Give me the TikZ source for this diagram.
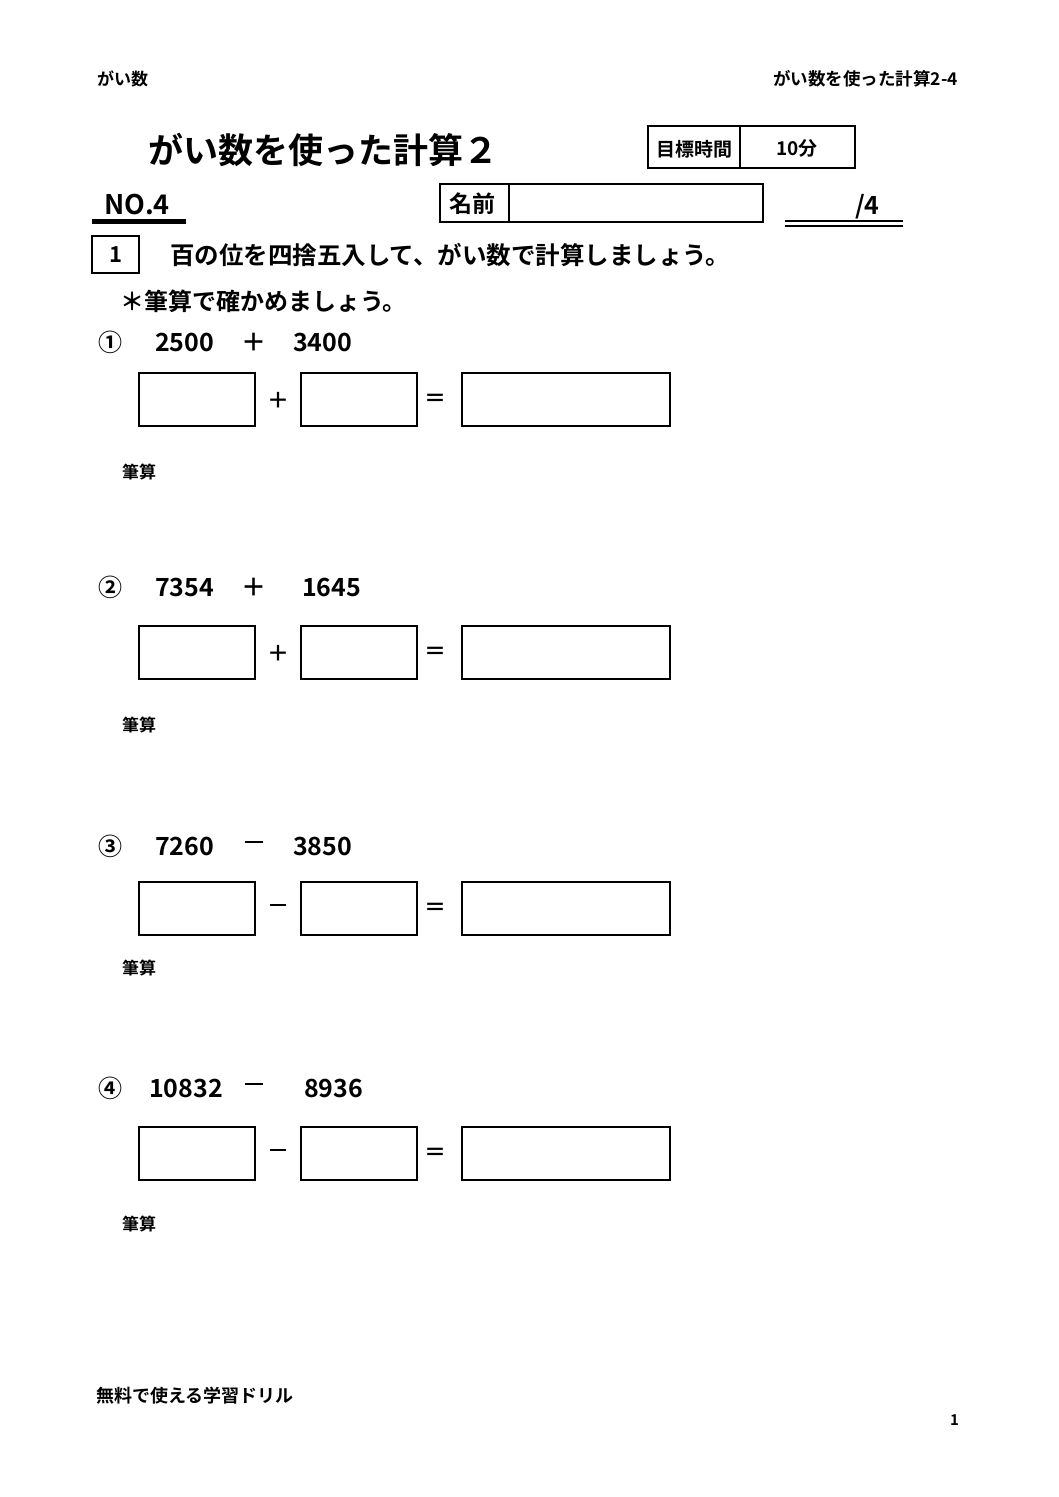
\documentclass[tikz,border=0pt]{standalone}
\usepackage{fontspec}
\setmainfont{Noto Sans CJK JP}[BoldFont={Noto Sans CJK JP Bold}]
\begin{document}
\begin{tikzpicture}[x=1pt,y=-1pt,
  bx/.style={draw,line width=1.6pt},
  t/.style={inner sep=0pt,anchor=west,font=\fontsize{#1}{#1}\selectfont\bfseries},
  t/.default=22]
\useasboundingbox[fill=white] (0,0) rectangle (1058,1497);
\node[t=17] (h1) at (97,79) {がい数};
\node[t=17.5,anchor=east] (h2) at (958,79) {がい数を使った計算2-4};
\node[t=35] (title) at (148,150) {がい数を使った計算２};
\draw[bx] (648,126) rectangle (855,168);
\draw[line width=1.6pt] (740,126) -- (740,168);
\node[t=19,anchor=center] (mk) at (694,149) {目標時間};
\node[t=19,anchor=center] (mk2) at (797,148) {10分};
\node[t=27] (no) at (104,205) {NO.4};
\draw[line width=5pt] (92,221) -- (186,221);
\draw[bx] (440,184) rectangle (763,222);
\draw[line width=1.6pt] (509,184) -- (509,222);
\node[t=23,anchor=center] (nm) at (472,204) {名前};
\node[t=25] (sc) at (855,207) {/4};
\draw[line width=1.5pt] (785,221) -- (903,221);
\draw[line width=1.5pt] (785,226) -- (903,226);
\draw[bx] (92,236) rectangle (139,273);
\node[t=22,anchor=center] (one) at (116,255) {1};
\node[t=24.5] (q) at (170,255) {百の位を四捨五入して、がい数で計算しましょう。};
\node[t=24] (q2) at (120,301) {＊筆算で確かめましょう。};
\foreach \y/\bt/\hs/\mk/\a/\op/\b/\ax/\bx/\n in
  {342/373/472/①/2500/＋/3400/155/293/p1,
   587/626/725/②/7354/＋/1645/155/302/p2,
   846/882/968/③/7260/\rule[0.33em]{0.75em}{2pt}/3850/155/293/p3,
   1088/1127/1224/④/10832/\rule[0.33em]{0.75em}{2pt}/8936/149/304/p4}{
  \node[t=24] (\n m) at (98,\y) {\mk};
  \node[t=25] (\n a) at (\ax,\y) {\a};
  \node[t=25,anchor=center] (\n o) at (254,\y) {\op};
  \node[t=25] (\n b) at (\bx,\y) {\b};
  \draw[bx] (139,\bt) rectangle (255,\bt+53);
  \draw[bx] (301,\bt) rectangle (417,\bt+53);
  \draw[bx] (462,\bt) rectangle (670,\bt+53);
  \node[t=22,anchor=center] (\n o2) at (278,\bt+27) {\op};
  \node[t=22,anchor=center] (\n e) at (435,\bt+27) {＝};
  \node[t=17] (\n h) at (122,\hs) {筆算};
}
\node[t=18] (ft) at (96,1396) {無料で使える学習ドリル};
\node[t=15] (pg) at (950,1420) {1};
\end{tikzpicture}
\end{document}
